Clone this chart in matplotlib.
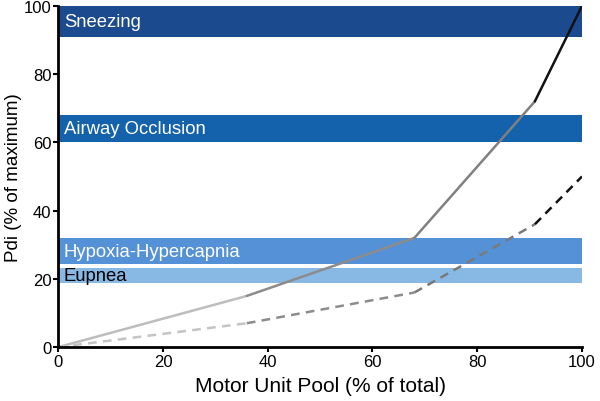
import matplotlib
matplotlib.use("Agg")
import matplotlib.pyplot as plt

plt.rcParams['font.family'] = ['Liberation Sans', 'DejaVu Sans']

# Bands (task, low, high)
band_names = ["Sneezing", "Airway Occlusion", "Hypoxia-Hypercapnia", "Eupnea"]
band_low = [91, 60, 24.3, 18.8]
band_high = [100, 68, 32, 23.2]
band_colors = ["#1b4a8e", "#1462ab", "#5591d6", "#88b8e4"]
band_text_colors = ["white", "white", "white", "black"]

# Solid curve segments
solid_x = [0, 36, 68, 91, 100]
solid_y = [0, 15, 32, 72, 100]
solid_colors = ["#bdbdbd", "#8c8c8c", "#808080", "#111111"]

# Dashed curve segments
dash_x = [0, 36, 68, 91, 100]
dash_y = [0, 7, 16, 36, 50]
dash_colors = ["#c4c4c4", "#8c8c8c", "#7a7a7a", "#111111"]

fig = plt.figure(figsize=(6, 4.02), dpi=100)
ax = fig.add_axes([0.097, 0.134, 0.873, 0.849])

for name, lo, hi, c, tc in zip(band_names, band_low, band_high, band_colors, band_text_colors):
    ax.axhspan(lo, hi, xmin=0, xmax=1, color=c, lw=0, zorder=1)
    ax.text(1.1, (lo + hi) / 2, name, color=tc, fontsize=13.3, va='center', ha='left', zorder=3)

for i in range(len(solid_x) - 1):
    ax.plot(solid_x[i:i + 2], solid_y[i:i + 2], color=solid_colors[i], lw=1.8, zorder=2,
            solid_capstyle='round')
for i in range(len(dash_x) - 1):
    ax.plot(dash_x[i:i + 2], dash_y[i:i + 2], color=dash_colors[i], lw=1.8, zorder=2,
            dashes=(3.5, 2.5))

ax.set_xlim(0, 100)
ax.set_ylim(0, 100)
ax.set_xticks([0, 20, 40, 60, 80, 100])
ax.set_yticks([0, 20, 40, 60, 80, 100])
for s in ['top', 'right']:
    ax.spines[s].set_visible(False)
for s in ['left', 'bottom']:
    ax.spines[s].set_linewidth(2)
ax.tick_params(direction='out', length=3.5, width=1.5, labelsize=12, pad=1.5)
ax.set_xlabel("Motor Unit Pool (% of total)", fontsize=15, labelpad=5)
ax.set_ylabel("Pdi (% of maximum)", fontsize=13.5, labelpad=1)

fig.savefig("out.png", dpi=100)
